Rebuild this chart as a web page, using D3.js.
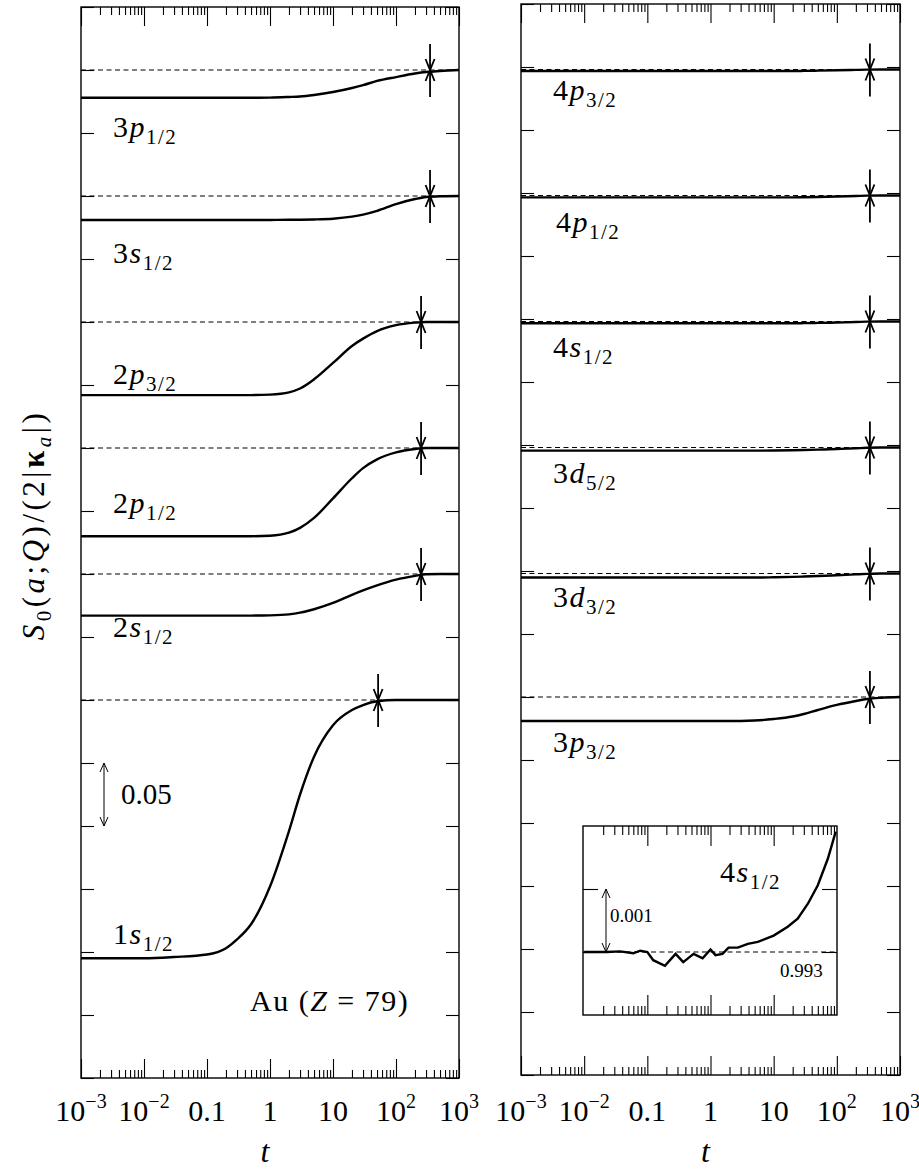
<!DOCTYPE html>
<html>
<head>
<meta charset="utf-8">
<script src="https://cdn.jsdelivr.net/npm/d3@7"></script>
<style>
  body { margin: 0; background: #fff; }
</style>
</head>
<body>
<div id="chart"></div>
<script>
// time grid shared by the stacked curves
var tGrid = [0.001, 0.01, 0.03, 0.1, 0.2, 0.3, 0.5, 1, 2, 3, 5, 10, 20, 30, 50, 100, 200, 300, 500, 1000];

// left panel (Au inner shells), S0/(2|kappa|)
var leftLevels  = ["3p1/2", "3s1/2", "2p3/2", "2p1/2", "2s1/2", "1s1/2"];
var leftOffsets = [0.80, 0.70, 0.60, 0.50, 0.40, 0.30];
var leftArrowT  = [347, 347, 250, 250, 250, 52];
var s3p12 = [0.978, 0.978, 0.978, 0.978, 0.978, 0.978, 0.978, 0.9781, 0.9786, 0.979, 0.9802, 0.9825, 0.9857, 0.988, 0.9913, 0.9944, 0.9972, 0.9984, 0.9992, 1];
var s3s12 = [0.981, 0.981, 0.981, 0.981, 0.981, 0.981, 0.981, 0.981, 0.9811, 0.9812, 0.9814, 0.982, 0.9836, 0.9852, 0.9882, 0.9936, 0.9976, 0.9992, 0.9998, 1];
var s2p32 = [0.942, 0.942, 0.942, 0.942, 0.942, 0.942, 0.942, 0.9424, 0.9442, 0.9472, 0.9545, 0.9675, 0.981, 0.9868, 0.9928, 0.9975, 0.9995, 1, 1, 1];
var s2p12 = [0.930, 0.930, 0.930, 0.930, 0.930, 0.930, 0.930, 0.9304, 0.9328, 0.9366, 0.9445, 0.960, 0.976, 0.984, 0.991, 0.9965, 0.9992, 1, 1, 1];
var s2s12 = [0.967, 0.967, 0.967, 0.967, 0.967, 0.967, 0.967, 0.9672, 0.968, 0.9693, 0.972, 0.977, 0.9835, 0.987, 0.991, 0.9955, 0.9985, 0.9998, 1, 1];
var s1s12 = [0.795, 0.795, 0.796, 0.798, 0.803, 0.810, 0.822, 0.852, 0.896, 0.925, 0.955, 0.980, 0.992, 0.996, 0.999, 1, 1, 1, 1, 1];
var leftSeries = [s3p12, s3s12, s2p32, s2p12, s2s12, s1s12];

// right panel (outer shells)
var rightLevels  = ["4p3/2", "4p1/2", "4s1/2", "3d5/2", "3d3/2", "3p3/2"];
var rightOffsets = [0.798, 0.698, 0.598, 0.498, 0.398, 0.300];
var rightArrowT  = [334, 334, 334, 334, 334, 334];
var s4p32 = [0.9988, 0.9988, 0.9988, 0.9988, 0.9988, 0.9988, 0.9988, 0.9988, 0.9988, 0.9988, 0.9988, 0.9988, 0.9988, 0.9989, 0.9991, 0.9994, 0.9997, 0.9999, 1, 1];
var s4p12 = [0.9985, 0.9985, 0.9985, 0.9985, 0.9985, 0.9985, 0.9985, 0.9985, 0.9985, 0.9985, 0.9985, 0.9985, 0.9985, 0.9986, 0.9988, 0.9992, 0.9996, 0.9999, 1, 1];
var s4s12 = [0.9986, 0.9986, 0.9986, 0.9986, 0.9986, 0.9986, 0.9986, 0.9986, 0.9986, 0.9986, 0.9986, 0.9986, 0.9986, 0.9987, 0.9989, 0.9992, 0.9996, 0.9999, 1, 1];
var s3d52 = [0.9975, 0.9975, 0.9975, 0.9975, 0.9975, 0.9975, 0.9975, 0.9975, 0.9975, 0.9975, 0.9975, 0.9976, 0.9978, 0.998, 0.9983, 0.9988, 0.9994, 0.9998, 1, 1];
var s3d32 = [0.9968, 0.9968, 0.9968, 0.9968, 0.9968, 0.9968, 0.9968, 0.9968, 0.9968, 0.9968, 0.9968, 0.997, 0.9973, 0.9976, 0.998, 0.9986, 0.9993, 0.9997, 1, 1];
var s3p32 = [0.981, 0.981, 0.981, 0.981, 0.981, 0.981, 0.981, 0.981, 0.981, 0.981, 0.9813, 0.9825, 0.9845, 0.9865, 0.9897, 0.9937, 0.9968, 0.9984, 0.9994, 1];
var rightSeries = [s4p32, s4p12, s4s12, s3d52, s3d32, s3p32];

// inset: 4s1/2 close-up
var insetT = [0.01, 0.023, 0.037, 0.06, 0.077, 0.1, 0.124, 0.19, 0.28, 0.37, 0.54, 0.75, 1.0, 1.2, 1.55, 1.93, 2.7, 3.9, 5.6, 10, 16.7, 24, 35, 50, 72, 96];
var insetS = [0.99300, 0.99300, 0.99301, 0.99298, 0.99302, 0.99300, 0.99287, 0.99278, 0.99297, 0.99284, 0.99297, 0.99290, 0.99304, 0.99295, 0.99297, 0.99307, 0.99307, 0.99313, 0.99316, 0.99326, 0.99340, 0.99353, 0.99377, 0.99406, 0.99448, 0.99491];
var insetRef = 0.993;

// axis ticks and labels
var xMajor = [0.001, 0.01, 0.1, 1, 10, 100, 1000];
var xTickText = [["10", "\u22123"], ["10", "\u22122"], ["0.1", ""], ["1", ""], ["10", ""], ["10", "2"], ["10", "3"]];
var yTickVals = d3.range(0, 0.851, 0.05);

// label placement (pixels, layout only)
var leftLabelPos  = [[113, 137], [113, 263], [113, 384], [113, 513], [113, 637], [113, 944]];
var rightLabelPos = [[553, 100], [556, 232], [553, 357], [553, 483], [553, 607], [553, 752]];

var FONT = "'Liberation Serif', 'DejaVu Serif', 'Times New Roman', serif";

var svg = d3.select("#chart").append("svg")
    .attr("width", 919)
    .attr("height", 1170)
    .attr("font-family", FONT)
    .style("font-family", FONT);

function minorTicks(lo, hi) {
    var out = [];
    for (var e = Math.log10(lo); e < Math.log10(hi); e++) {
        for (var k = 2; k <= 9; k++) out.push(k * Math.pow(10, e));
    }
    return out;
}

function drawAxes(g, x, y, top, bottom, left, right, yTicks, ytl, xmaj, xmin, majL, minL) {
    g.append("g").attr("transform", "translate(0," + bottom + ")")
        .call(d3.axisBottom(x).tickValues(xmaj).tickSize(-majL).tickFormat(""));
    g.append("g").attr("transform", "translate(0," + bottom + ")")
        .call(d3.axisBottom(x).tickValues(xmin).tickSize(-minL).tickFormat(""));
    g.append("g").attr("transform", "translate(0," + top + ")")
        .call(d3.axisTop(x).tickValues(xmaj).tickSize(-majL).tickFormat(""));
    g.append("g").attr("transform", "translate(0," + top + ")")
        .call(d3.axisTop(x).tickValues(xmin).tickSize(-minL).tickFormat(""));
    g.append("g").attr("transform", "translate(" + left + ",0)")
        .call(d3.axisLeft(y).tickValues(yTicks).tickSize(-ytl).tickFormat(""));
    g.append("g").attr("transform", "translate(" + right + ",0)")
        .call(d3.axisRight(y).tickValues(yTicks).tickSize(-ytl).tickFormat(""));
    g.selectAll(".domain").remove();
    g.selectAll(".tick line").attr("stroke", "#000").attr("stroke-width", 1.1);
    g.append("rect")
        .attr("x", left).attr("y", top)
        .attr("width", right - left).attr("height", bottom - top)
        .attr("fill", "none").attr("stroke", "#000").attr("stroke-width", 1.4);
}

function levelLabel(g, x, y, s, size, subSize) {
    var t = g.append("text").attr("x", x).attr("y", y)
        .attr("font-family", FONT)
        .style("font-size", size + "px")
        .style("letter-spacing", "1.5px");
    t.append("tspan").text(s[0]);
    t.append("tspan").style("font-style", "italic").text(s[1]);
    t.append("tspan").attr("dy", 7).style("font-size", subSize + "px").text(s.slice(2));
}

// two converging arrows marking where the curve reaches 1
function convergeArrow(g, cx, cy) {
    var a = g.append("g").attr("stroke", "#000").attr("stroke-width", 1.8).attr("fill", "none");
    a.append("line").attr("x1", cx).attr("x2", cx).attr("y1", cy - 26).attr("y2", cy + 27);
    a.append("path").attr("d", "M" + (cx - 4.5) + "," + (cy - 11) + "L" + cx + "," + cy + "L" + (cx + 4.5) + "," + (cy - 11));
    a.append("path").attr("d", "M" + (cx - 4.5) + "," + (cy + 11) + "L" + cx + "," + cy + "L" + (cx + 4.5) + "," + (cy + 11));
}

// double-headed scale bar
function scaleBar(g, x, y1, y2) {
    var a = g.append("g").attr("stroke", "#000").attr("stroke-width", 1).attr("fill", "none");
    a.append("line").attr("x1", x).attr("x2", x).attr("y1", y1).attr("y2", y2);
    a.append("path").attr("d", "M" + (x - 4) + "," + (y1 + 9) + "L" + x + "," + y1 + "L" + (x + 4) + "," + (y1 + 9));
    a.append("path").attr("d", "M" + (x - 4) + "," + (y2 - 9) + "L" + x + "," + y2 + "L" + (x + 4) + "," + (y2 - 9));
}

function drawPanel(left, right, top, bottom, levels, offsets, series, arrowT, labelPos) {
    var g = svg.append("g");
    var x = d3.scaleLog().domain([0.001, 1000]).range([left, right]);
    var y = d3.scaleLinear().domain([0, 0.85]).range([bottom, top]);

    drawAxes(g, x, y, top, bottom, left, right, yTickVals, 13, xMajor, minorTicks(0.001, 1000), 19, 8);

    var line = d3.line()
        .x(function(d) { return x(d[0]); })
        .y(function(d) { return y(d[1]); })
        .curve(d3.curveMonotoneX);

    series.forEach(function(s, i) {
        // reference level S = 1
        g.append("line")
            .attr("x1", left).attr("x2", right)
            .attr("y1", y(offsets[i])).attr("y2", y(offsets[i]))
            .attr("stroke", "#000").attr("stroke-width", 1.1)
            .attr("stroke-dasharray", "5,3.5");
        var pts = tGrid.map(function(t, j) { return [t, offsets[i] + s[j] - 1]; });
        g.append("path")
            .datum(pts)
            .attr("d", line)
            .attr("fill", "none")
            .attr("stroke", "#000")
            .attr("stroke-width", 2.4);
        convergeArrow(g, x(arrowT[i]), y(offsets[i]));
        levelLabel(g, labelPos[i][0], labelPos[i][1], levels[i], 30, 21);
    });

    // tick labels
    xMajor.forEach(function(t, i) {
        var lab = g.append("text")
            .attr("x", x(t)).attr("y", 1121)
            .attr("text-anchor", "middle")
            .attr("font-family", FONT)
            .style("font-size", "30px");
        lab.append("tspan").text(xTickText[i][0]);
        if (xTickText[i][1] !== "") {
            lab.append("tspan").attr("dy", -13).style("font-size", "20px").text(xTickText[i][1]);
        }
    });

    g.append("text")
        .attr("x", (left + right) / 2 - 5).attr("y", 1162)
        .attr("text-anchor", "middle")
        .attr("font-family", FONT)
        .style("font-size", "32px").style("font-style", "italic")
        .text("t");

    return { x: x, y: y, g: g };
}

var L = drawPanel(81, 459, 7, 1078, leftLevels, leftOffsets, leftSeries, leftArrowT, leftLabelPos);
var R = drawPanel(521, 900, 4, 1075, rightLevels, rightOffsets, rightSeries, rightArrowT, rightLabelPos);

// 0.05 scale bar, left panel
scaleBar(L.g, 104, L.y(0.25), L.y(0.20));
L.g.append("text").attr("x", 121).attr("y", 804)
    .attr("font-family", FONT).style("font-size", "29px").text("0.05");

// Au (Z = 79)
var au = L.g.append("text").attr("x", 250).attr("y", 1011)
    .attr("font-family", FONT)
    .style("font-size", "30px")
    .style("letter-spacing", "1.5px");
au.append("tspan").text("Au (");
au.append("tspan").style("font-style", "italic").text("Z");
au.append("tspan").text(" = 79)");

// y axis title
var yl = svg.append("text")
    .attr("transform", "translate(44,525) rotate(-90)")
    .attr("text-anchor", "middle")
    .attr("font-family", FONT)
    .style("font-size", "31px")
    .style("letter-spacing", "3.5px");
yl.append("tspan").style("font-style", "italic").text("S");
yl.append("tspan").attr("dy", 7).style("font-size", "21px").text("0");
yl.append("tspan").attr("dy", -7).text("(");
yl.append("tspan").style("font-style", "italic").text("a");
yl.append("tspan").text(";");
yl.append("tspan").style("font-style", "italic").text("Q");
yl.append("tspan").text(")/(2|");
yl.append("tspan").style("font-weight", "bold").text("\u03ba");
yl.append("tspan").attr("dy", 7).style("font-size", "21px").style("font-style", "italic").text("a");
yl.append("tspan").attr("dy", -7).text("|)");

// inset
var ix = d3.scaleLog().domain([0.01, 100]).range([R.x(0.01), R.x(100)]);
var iy = d3.scaleLinear().domain([0.992, 0.995]).range([1015, 826]);
var ig = svg.append("g");
ig.append("rect")
    .attr("x", 583).attr("y", 826).attr("width", 254).attr("height", 189)
    .attr("fill", "#fff");
drawAxes(ig, ix, iy, 826, 1015, 583, 837, [0.993, 0.994], 15, [0.1, 1, 10], minorTicks(0.01, 100), 20, 9);
ig.append("line")
    .attr("x1", 583).attr("x2", 837)
    .attr("y1", iy(insetRef)).attr("y2", iy(insetRef))
    .attr("stroke", "#000").attr("stroke-width", 1.1)
    .attr("stroke-dasharray", "5,3.5");
ig.append("path")
    .datum(insetT.map(function(t, j) { return [t, insetS[j]]; }))
    .attr("d", d3.line()
        .x(function(d) { return ix(d[0]); })
        .y(function(d) { return iy(d[1]); }))
    .attr("fill", "none")
    .attr("stroke", "#000")
    .attr("stroke-width", 2.4);
scaleBar(ig, 606, iy(0.994), iy(0.993));
ig.append("text").attr("x", 610).attr("y", 922)
    .attr("font-family", FONT).style("font-size", "19px").text("0.001");
ig.append("text").attr("x", 780).attr("y", 977)
    .attr("font-family", FONT).style("font-size", "19px").text("0.993");
levelLabel(ig, 720, 882, "4s1/2", 30, 21);
</script>
</body>
</html>
